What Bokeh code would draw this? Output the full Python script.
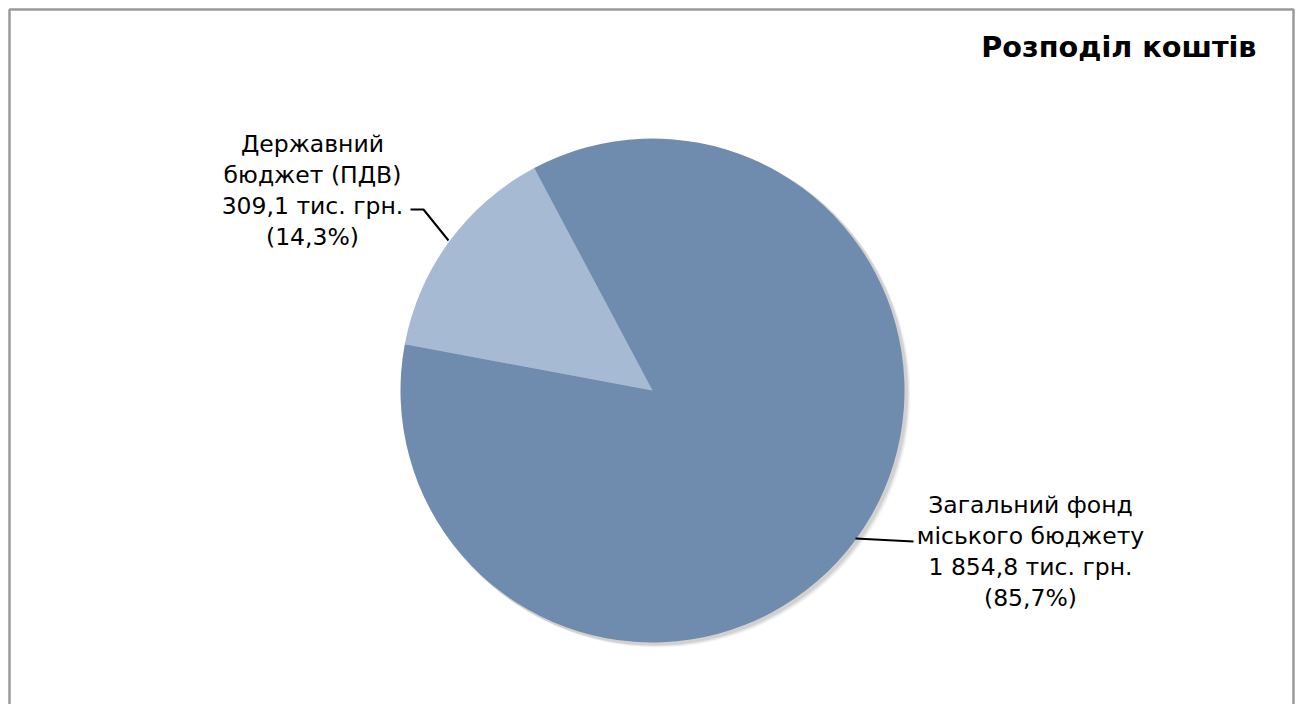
import math
from bokeh.plotting import figure
from bokeh.models import Range1d
from bokeh.core.properties import value
from bokeh.embed import file_html
from bokeh.resources import INLINE

# ---- data ----
categories = ["Державний бюджет (ПДВ)", "Загальний фонд міського бюджету"]
amounts = [309.1, 1854.8]
percents = ["14,3%", "85,7%"]
label_lines = [
    ["Державний", "бюджет (ПДВ)", "309,1 тис. грн.", "(14,3%)"],
    ["Загальний фонд", "міського бюджету", "1 854,8 тис. грн.", "(85,7%)"],
]
colors = ["#A7BAD3", "#6F8BAE"]
title = "Розподіл коштів"

W, H = 1300, 704
p = figure(width=W, height=H, output_backend="svg", toolbar_location=None,
           x_range=Range1d(0, W), y_range=Range1d(0, H), min_border=0)
p.axis.visible = False
p.grid.visible = False
p.outline_line_color = None
p.background_fill_color = "white"
p.border_fill_color = "white"

def sx(x):
    return x

def sy(y):
    return H - y

# chart border
p.quad(left=[sx(9)], right=[sx(1293)], top=[sy(9)], bottom=[sy(720)],
       fill_color=None, line_color="#9A9A9A", line_width=2.5)

cx, cy, r = sx(652), sy(390), 252

# shadow
for off, a in [(7, 0.04), (6, 0.05), (5, 0.07), (4, 0.09), (3, 0.12)]:
    p.circle(x=[cx + off * 0.75], y=[cy - off * 0.6], radius=r + 1, radius_units="screen",
             fill_color="#777777", fill_alpha=a, line_color=None)

total = sum(amounts)
start = math.radians(118.0)
starts, ends = [], []
a0 = start
for v in amounts:
    a1 = a0 + 2 * math.pi * v / total
    starts.append(a0)
    ends.append(a1)
    a0 = a1

p.wedge(x=[cx] * len(amounts), y=[cy] * len(amounts), radius=r, radius_units="screen",
        start_angle=starts, end_angle=ends, fill_color=colors, line_color=None)

# leader lines
p.line(x=[sx(410), sx(423), sx(448)], y=[sy(209), sy(209), sy(240)], line_color="black", line_width=2)
p.line(x=[sx(855), sx(913)], y=[sy(538), sy(541)], line_color="black", line_width=2)

# labels
font = value("DejaVu Sans")
label_pos = [(312, 143), (1030, 504)]
spacing = 31
for (lx, ly), lines in zip(label_pos, label_lines):
    xs = [sx(lx)] * len(lines)
    ys = [sy(ly + i * spacing) for i in range(len(lines))]
    p.text(x=xs, y=ys, text=lines, text_font=font, text_font_size="23.5px",
           text_align="center", text_baseline="middle", text_color="#000000")

p.text(x=[sx(1256)], y=[sy(46)], text=[title], text_font=font, text_font_size="28.7px",
       text_font_style="bold", text_align="right", text_baseline="middle", text_color="#000000")

open("out.html", "w").write(file_html(p, INLINE))
